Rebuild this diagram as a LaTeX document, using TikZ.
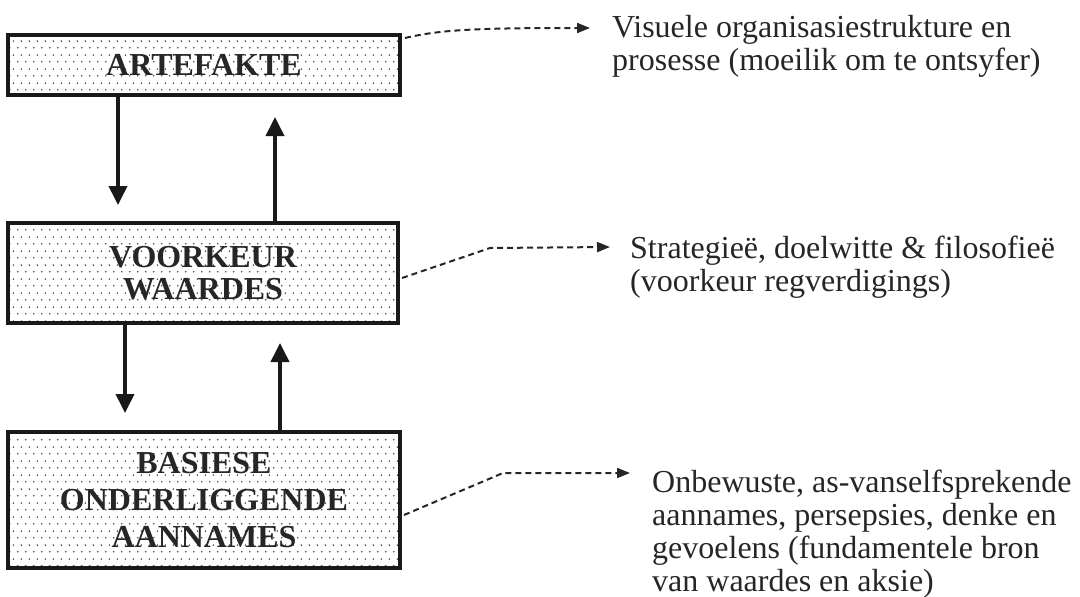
\documentclass[tikz,border=0pt]{standalone}
\usepackage{fontspec}
\setmainfont{Liberation Serif}
\usetikzlibrary{arrows.meta,calc,patterns}

% staggered halftone dots used as the box fill
\pgfdeclarepatternformonly{boxdots}{\pgfpointorigin}{\pgfpoint{8pt}{14pt}}{\pgfpoint{8pt}{14pt}}{%
  \pgfpathcircle{\pgfpoint{2pt}{3.5pt}}{0.95pt}%
  \pgfpathcircle{\pgfpoint{6pt}{10.5pt}}{0.95pt}%
  \pgfusepath{fill}%
}

\definecolor{ink}{HTML}{262626}
\definecolor{dotgray}{HTML}{4A4A4A}

\tikzset{
  layerbox/.style={draw=black!90, line width=4pt, pattern=boxdots, pattern color=dotgray,
    inner sep=0pt, align=center, text=ink,
    font=\bfseries\fontsize{32}{32}\selectfont},
  flowarrow/.style={draw=black!90, line width=3.8pt, -{Triangle[length=19pt,width=18pt]}},
  notearrow/.style={draw=ink, line width=2pt, dash pattern=on 6pt off 4pt,
    -{Triangle[length=13pt,width=10pt]}},
  notetext/.style={anchor=north west, inner sep=0pt, align=left, text=ink,
    font=\fontsize{32}{33}\selectfont},
}

\begin{document}
\begin{tikzpicture}[x=1pt,y=-1pt]
\useasboundingbox (0,0) rectangle (1080,597);

% the three layers
\node[layerbox, minimum width=392pt, minimum height=60pt] (art) at (204,65) {ARTEFAKTE};
\node[layerbox, minimum width=390pt, minimum height=100pt, font=\bfseries\fontsize{32}{32}\selectfont] (voor) at (203,273) {VOORKEUR\\WAARDES};
\node[layerbox, minimum width=392pt, minimum height=136pt, font=\bfseries\fontsize{32}{37}\selectfont] (bas) at (204,500) {BASIESE\\ONDERLIGGENDE\\AANNAMES};

% arrows between layers
\draw[flowarrow, shorten >=16pt] ($(art.south west)+(112,0)$) -- ($(voor.north west)+(112,0)$);
\draw[flowarrow, shorten >=20pt] ($(voor.north west)+(269,0)$) -- ($(art.south west)+(269,0)$);
\draw[flowarrow, shorten >=17pt] ($(voor.south west)+(119,0)$) -- ($(bas.north west)+(119,0)$);
\draw[flowarrow, shorten >=18pt] ($(bas.north west)+(274,0)$) -- ($(voor.south west)+(274,0)$);

% explanatory notes
\node[notetext] (n1) at (612,15) {Visuele organisasiestrukture en\\prosesse (moeilik om te ontsyfer)};
\node[notetext] (n2) at (630,236) {Strategieë, doelwitte \& filosofieë\\(voorkeur regverdigings)};
\node[notetext] (n3) at (652,470) {Onbewuste, as-vanselfsprekende\\aannames, persepsies, denke en\\gevoelens (fundamentele bron\\van waardes en aksie)};

\coordinate (e1) at (590,28);
\coordinate (e2) at (610,247);
\coordinate (e3) at (630,473);

\draw[notearrow] ($(art.north east)+(3,5)$) .. controls (440,30) and (470,28) .. (e1);
\draw[notearrow] ($(voor.east)+(2,5)$) -- (490,248) -- (e2);
\draw[notearrow] ($(bas.east)+(2,15)$) -- (503,473) -- (e3);
\end{tikzpicture}
\end{document}
